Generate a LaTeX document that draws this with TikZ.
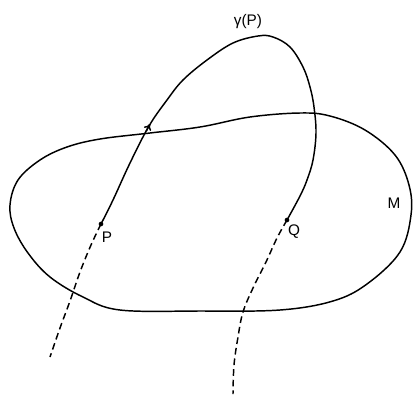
\documentclass[tikz,border=0pt]{standalone}
\usepackage{fontspec}
\setmainfont{Liberation Sans}
\usetikzlibrary{arrows.meta}
\begin{document}
\begin{tikzpicture}[x=0.75pt,y=-0.75pt,
  curve/.style={line width=1.1pt, line join=round},
  dashedcurve/.style={line width=1.1pt, dash pattern=on 5pt off 3pt},
  dot/.style={circle, fill, inner sep=0pt, minimum size=3.5pt},
  lbl/.style={font=\fontsize{11.5}{13}\selectfont, inner sep=1pt}]
\useasboundingbox (0,0) rectangle (414,394);
% region M
\draw[curve] plot[smooth cycle, tension=0.6] coordinates {(150,133) (200,127) (250,117) (300,113) (330,116) (365,130) (395,155) (409,185) (411,215) (400,252) (367,284) (333,301) (280,310) (200,311) (120,310) (83,297) (50,277) (28,253) (14,228) (10,205) (18,180) (40,160) (67,147) (100,139)};
% points
\node[dot] (P) at (101,224) {};
\node[dot] (Q) at (287,220) {};
% orbit gamma(P), solid part
\draw[curve] plot[smooth, tension=0.6] coordinates {(P) (113,200) (130,163) (149,126) (167,100) (183,80) (207,60) (233,43) (258,36) (273,37) (290,47) (303,67) (310,87) (314,107) (316,133) (313,160) (307,180) (300,196) (Q)};
% dashed continuations
\draw[dashedcurve] plot[smooth, tension=0.6] coordinates {(P) (91,245) (80,272) (70,301) (60,328) (50,357)};
\draw[dashedcurve] plot[smooth, tension=0.6] coordinates {(Q) (277,238) (266,262) (253,288) (243,312) (238,337) (234,365) (233,394)};
% direction arrow
\coordinate (a1) at (146.3,131.1);
\coordinate (a2) at (150,124);
\draw[line width=1.1pt, -{To[length=4.5pt,width=6pt]}] (a1) -- (a2);
% labels
\node[lbl] (lP) at (107,237) {P};
\node[lbl] (lQ) at (294,232) {Q};
\node[lbl] (lM) at (394,203) {M};
\node[lbl] (lg) at (248,22) {γ(P)};
\end{tikzpicture}
\end{document}
